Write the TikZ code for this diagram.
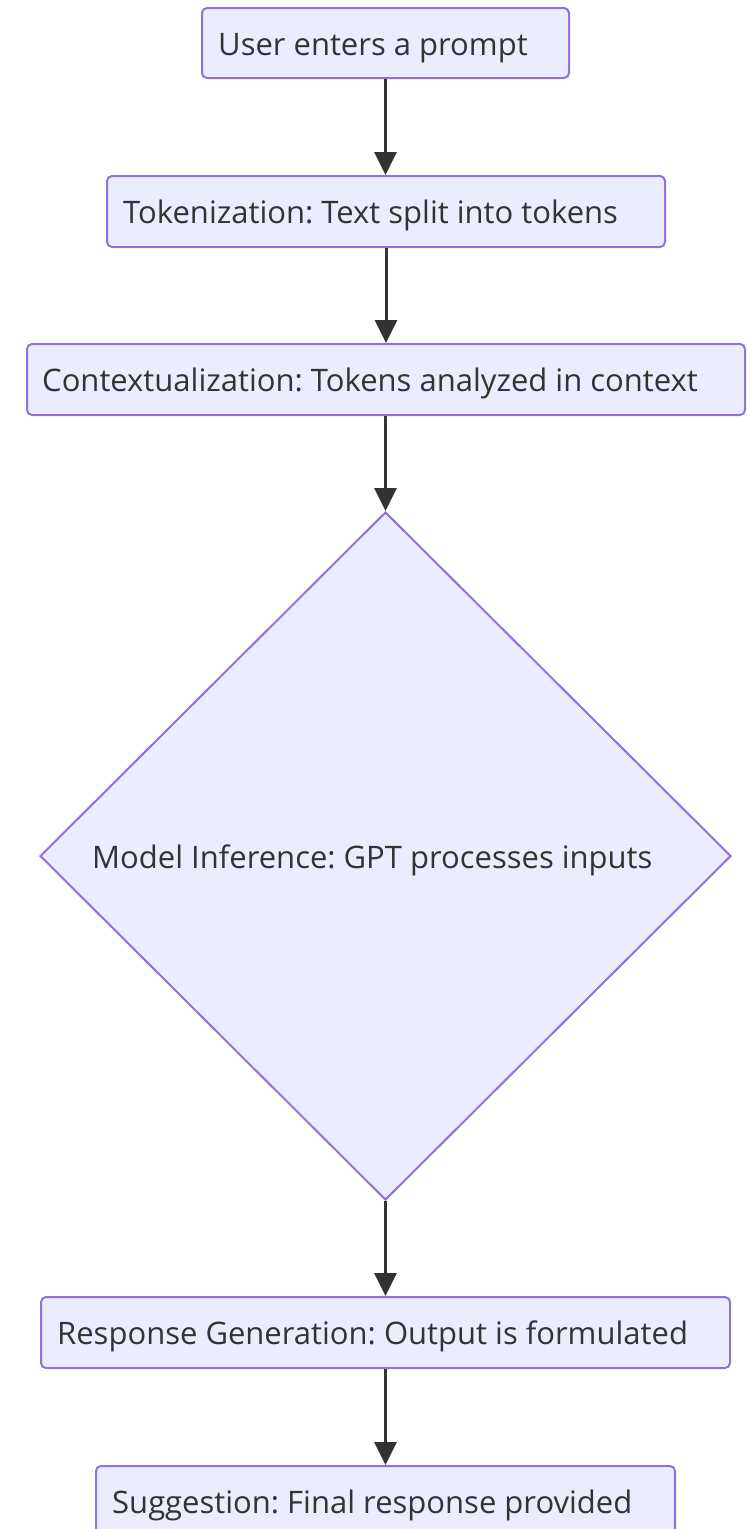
\documentclass[tikz,border=0pt]{standalone}
\usepackage{fontspec}
\setmainfont{Open Sans}
\usetikzlibrary{arrows.meta,shapes.geometric}
\definecolor{boxfill}{HTML}{ECECFF}
\definecolor{boxline}{HTML}{9370DB}
\definecolor{ink}{HTML}{333333}
\frenchspacing
\begin{document}
\begin{tikzpicture}[x=1pt,y=-1pt,
  procbox/.style={draw=boxline,fill=boxfill,line width=2pt,rounded corners=5pt,inner sep=0pt,minimum height=71pt},
  decbox/.style={draw=boxline,fill=boxfill,line width=2pt,diamond,inner sep=0pt,minimum width=691pt,minimum height=688pt},
  lbl/.style={anchor=base west,inner sep=0pt,text=ink,font=\fontsize{31}{38}\selectfont},
  flow/.style={draw=ink,line width=3pt,-{Triangle[length=23pt,width=22pt]}}]
\useasboundingbox (0,0) rectangle (747,1529);
\clip (0,0) rectangle (747,1529);
\node[procbox,minimum width=367pt,minimum height=70pt] (b1) at (385.5,43) {};
\node[procbox,minimum width=558pt] (b2) at (386,211.5) {};
\node[procbox,minimum width=718pt] (b3) at (386,379.5) {};
\node[decbox] (d4) at (385.5,856) {};
\node[procbox,minimum width=689pt] (b5) at (385.5,1332.5) {};
\node[procbox,minimum width=579pt] (b6) at (385.5,1501.5) {};
\node[lbl] (t1) at (218,55) {User enters a prompt};
\node[lbl] (t2) at (123,223.5) {Tokenization: Text split into tokens};
\node[lbl] (t3) at (42,391.5) {Contextualization: Tokens analyzed in context};
\node[lbl] (t4) at (92,868) {Model Inference: GPT processes inputs};
\node[lbl] (t5) at (57,1344.5) {Response Generation: Output is formulated};
\node[lbl] (t6) at (112,1513.5) {Suggestion: Final response provided};
\draw[flow] (b1.south) -- (b1.south |- b2.north);
\draw[flow] (b2.south) -- (b2.south |- b3.north);
\draw[flow] (d4.north |- b3.south) -- (d4.north);
\draw[flow] (d4.south) -- (d4.south |- b5.north);
\draw[flow] (b5.south) -- (b5.south |- b6.north);
\end{tikzpicture}
\end{document}
